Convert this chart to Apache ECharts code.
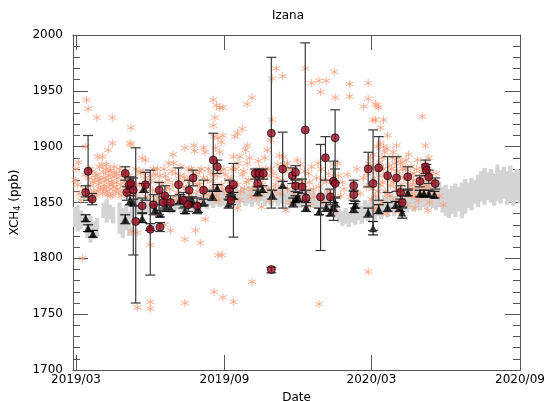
<!DOCTYPE html>
<html>
<head>
<meta charset="utf-8">
<script src="https://cdn.jsdelivr.net/npm/echarts@6/dist/echarts.min.js"></script>
<style>
  html, body { margin: 0; padding: 0; background: #fff; }
  #chart { width: 547px; height: 401px; }
</style>
</head>
<body>
<div id="chart"></div>
<script>
  // day numbers are counted from 2019-03-01
  const T0 = Date.UTC(2019, 2, 1);
  const DAY = 86400000;
  const toTime = d => T0 + d * DAY;

  const xTickDates = ['2019-03-01', '2019-09-01', '2020-03-01', '2020-09-01'];

  // model band (grey), 4-day blocks
  const modelDay = [-4, 0, 4, 8, 12, 16, 20, 24, 32, 36, 40, 44, 52, 56, 60, 64, 68, 72, 76, 80, 84, 88, 92, 96, 100, 104, 108, 112, 116, 120, 124, 128, 132, 136, 140, 144, 148, 152, 156, 160, 164, 168, 172, 176, 180, 184, 188, 192, 196, 200, 204, 208, 212, 216, 220, 224, 228, 232, 236, 240, 244, 248, 252, 256, 260, 264, 268, 272, 276, 280, 284, 288, 292, 296, 300, 304, 308, 312, 316, 320, 324, 328, 332, 336, 340, 344, 348, 352, 356, 360, 364, 368, 372, 376, 380, 384, 388, 392, 396, 400, 404, 408, 412, 416, 420, 424, 428, 432, 436, 440, 444, 448, 452, 456, 460, 464, 468, 472, 476, 480, 484, 488, 492, 496, 500, 504, 508, 512, 516, 520, 524, 528, 532, 536, 540, 544, 548];
  const modelLo = [1828, 1824, 1826, 1830, 1818, 1814, 1817, 1820, 1836, 1832, 1835, 1831, 1822, 1818, 1825, 1820, 1836, 1840, 1841, 1838, 1842, 1840, 1841, 1839, 1842, 1840, 1843, 1841, 1840, 1842, 1844, 1841, 1843, 1840, 1844, 1841, 1845, 1843, 1846, 1844, 1847, 1845, 1848, 1846, 1847, 1845, 1848, 1846, 1849, 1846, 1850, 1847, 1849, 1846, 1850, 1848, 1851, 1847, 1849, 1847, 1850, 1847, 1849, 1846, 1848, 1846, 1849, 1847, 1845, 1848, 1846, 1848, 1846, 1844, 1846, 1844, 1847, 1842, 1840, 1836, 1832, 1829, 1831, 1828, 1832, 1830, 1834, 1831, 1835, 1833, 1837, 1834, 1838, 1835, 1840, 1837, 1841, 1838, 1842, 1840, 1843, 1841, 1844, 1842, 1845, 1843, 1846, 1844, 1847, 1845, 1843, 1846, 1841, 1838, 1836, 1840, 1837, 1842, 1836, 1840, 1845, 1843, 1849, 1846, 1851, 1848, 1852, 1850, 1847, 1851, 1849, 1853, 1848, 1850, 1847, 1852, 1849];
  const modelHi = [1846, 1848, 1843, 1840, 1836, 1838, 1833, 1836, 1850, 1853, 1848, 1846, 1850, 1845, 1848, 1842, 1852, 1854, 1857, 1853, 1856, 1854, 1852, 1853, 1856, 1852, 1857, 1854, 1852, 1856, 1859, 1854, 1858, 1853, 1858, 1855, 1859, 1857, 1861, 1858, 1862, 1859, 1864, 1860, 1862, 1859, 1863, 1860, 1865, 1861, 1864, 1860, 1865, 1861, 1866, 1863, 1867, 1862, 1864, 1861, 1865, 1862, 1863, 1859, 1863, 1861, 1864, 1861, 1859, 1862, 1860, 1863, 1861, 1858, 1861, 1858, 1862, 1856, 1853, 1848, 1844, 1842, 1845, 1841, 1846, 1843, 1850, 1847, 1852, 1850, 1854, 1851, 1855, 1852, 1857, 1854, 1858, 1856, 1860, 1858, 1862, 1860, 1866, 1864, 1868, 1872, 1870, 1873, 1869, 1871, 1866, 1869, 1864, 1866, 1862, 1865, 1867, 1864, 1868, 1871, 1868, 1872, 1870, 1875, 1878, 1881, 1877, 1880, 1876, 1884, 1879, 1882, 1878, 1883, 1877, 1880, 1879];

  // satellite soundings (stars): [day, ppb]
  const starPoints = [
    [13, 1942], [15, 1934], [26, 1926], [45, 1926], [68, 1917], [68, 1902], [45, 1903], [40, 1897], [12, 1900],
    [27, 1891], [33, 1891], [38, 1884], [3, 1886], [0, 1880], [2, 1866], [-1, 1870], [8, 1800],
    [4, 1858], [6, 1852], [10, 1862], [11, 1875], [14, 1855],
    [16, 1872], [18, 1865], [20, 1878], [22, 1860], [23, 1870], [25, 1856], [26, 1875], [28, 1866], [29, 1882],
    [30, 1862], [31, 1871], [33, 1858], [34, 1877], [35, 1866], [36, 1862], [37, 1880], [38, 1870], [39, 1857],
    [40, 1874], [41, 1866], [42, 1862], [43, 1879], [44, 1869], [45, 1857], [46, 1873], [47, 1864], [48, 1876],
    [49, 1860], [50, 1868], [52, 1872], [53, 1858], [55, 1866], [57, 1874], [58, 1861], [60, 1869], [62, 1878], [64, 1858],
    [17, 1880], [19, 1858], [21, 1868], [24, 1874], [27, 1860], [29, 1870], [32, 1884], [34, 1863], [36, 1872],
    [38, 1860], [41, 1878], [43, 1856], [45, 1866], [47, 1882], [50, 1876], [51, 1862], [54, 1880], [56, 1856],
    [59, 1876], [61, 1866], [63, 1872],
    [82, 1890], [86, 1888], [120, 1893], [121, 1885], [135, 1899], [146, 1901], [147, 1896], [158, 1899], [160, 1895],
    [170, 1942], [174, 1937], [178, 1935], [172, 1926], [170, 1919], [171, 1909], [176, 1908], [180, 1904], [178, 1895],
    [173, 1899], [153, 1878], [171, 1875], [80, 1876], [92, 1874], [104, 1874], [96, 1880], [115, 1885], [130, 1882],
    [143, 1880], [67, 1903],
    [65, 1862], [70, 1870], [72, 1856], [75, 1866], [78, 1878], [82, 1860], [85, 1872], [88, 1855], [90, 1866],
    [95, 1861], [98, 1875], [100, 1852], [103, 1868], [106, 1858], [109, 1880], [112, 1863], [114, 1870], [117, 1853],
    [120, 1866], [123, 1876], [126, 1859], [128, 1869], [131, 1855], [134, 1873], [137, 1863], [140, 1880], [142, 1857],
    [145, 1868], [148, 1875], [150, 1860], [153, 1866], [156, 1852], [158, 1872], [161, 1862], [164, 1880], [166, 1856],
    [169, 1869], [172, 1860], [175, 1874], [177, 1852], [180, 1866], [183, 1880], [186, 1858], [188, 1870],
    [66, 1874], [74, 1880], [79, 1866], [84, 1878], [87, 1862], [93, 1870], [97, 1856], [101, 1880], [107, 1866],
    [111, 1874], [116, 1862], [119, 1878], [124, 1852], [129, 1874], [133, 1864], [138, 1870], [141, 1852], [146, 1876],
    [151, 1866], [155, 1880], [159, 1858], [163, 1870], [167, 1876], [170, 1864], [174, 1856], [179, 1878], [182, 1862],
    [185, 1875], [189, 1854],
    [76, 1756], [92, 1761], [92, 1755], [135, 1760], [171, 1770], [182, 1765], [195, 1761], [218, 1779], [181, 1803],
    [301, 1759], [362, 1788], [92, 1812], [69, 1824], [154, 1814], [176, 1803], [148, 1825], [135, 1817], [117, 1825],
    [76, 1823], [110, 1830], [160, 1835], [100, 1840],
    [248, 1970], [256, 1963], [243, 1961], [284, 1970], [292, 1957], [301, 1959], [310, 1959], [303, 1949], [320, 1967],
    [321, 1944], [339, 1956], [339, 1945], [362, 1957], [362, 1943], [356, 1936], [371, 1938], [368, 1924], [218, 1944],
    [212, 1938], [182, 1935], [206, 1916], [200, 1912], [197, 1909], [182, 1910], [243, 1924], [241, 1906], [237, 1897],
    [212, 1901], [210, 1897], [203, 1891], [195, 1891], [257, 1891], [262, 1885],
    [373, 1937], [375, 1935], [371, 1924], [381, 1924], [377, 1917], [386, 1910], [397, 1901], [381, 1900], [377, 1903],
    [429, 1927], [433, 1901], [437, 1890], [412, 1893], [404, 1886], [393, 1895],
    [192, 1872], [195, 1858], [198, 1880], [200, 1866], [203, 1852], [206, 1875], [209, 1862], [212, 1885], [214, 1870],
    [217, 1855], [220, 1878], [223, 1864], [226, 1887], [229, 1857], [232, 1872], [235, 1880], [238, 1862], [240, 1852],
    [244, 1876], [247, 1866], [250, 1884], [253, 1858], [256, 1870], [259, 1878], [262, 1862], [265, 1850], [268, 1874],
    [271, 1865], [274, 1888], [277, 1855], [280, 1870], [283, 1878], [286, 1860], [289, 1868], [292, 1882], [295, 1855],
    [298, 1872], [301, 1864], [304, 1880], [307, 1850], [310, 1868], [313, 1876], [316, 1858], [319, 1884], [322, 1866],
    [325, 1874], [328, 1856], [200, 1845], [230, 1846], [260, 1843], [290, 1847], [320, 1842],
    [193, 1880], [197, 1866], [201, 1885], [204, 1860], [208, 1878], [211, 1868], [215, 1890], [218, 1862], [221, 1872],
    [224, 1855], [227, 1880], [231, 1866], [234, 1890], [237, 1874], [241, 1880], [245, 1860], [249, 1872], [252, 1892],
    [255, 1864], [258, 1884],
    [266, 1880], [270, 1858], [278, 1884], [282, 1866], [288, 1876], [294, 1862], [300, 1885], [306, 1870], [312, 1860],
    [318, 1872], [324, 1885], [330, 1868],
    [332, 1862], [336, 1875], [340, 1855], [344, 1868], [348, 1880], [352, 1858], [356, 1872], [360, 1864], [363, 1885],
    [366, 1853], [368, 1893], [370, 1870], [372, 1878], [374, 1860], [376, 1886], [378, 1850], [380, 1868], [382, 1895],
    [384, 1875], [386, 1857], [388, 1883], [390, 1865], [392, 1890], [394, 1870], [396, 1852], [398, 1878], [400, 1862],
    [402, 1885], [404, 1858], [406, 1872], [408, 1880], [410, 1848], [412, 1866], [414, 1875], [416, 1856], [418, 1870],
    [420, 1862], [422, 1880], [424, 1852], [426, 1868], [428, 1876], [430, 1858], [432, 1884], [434, 1864], [436, 1872],
    [438, 1850], [440, 1868], [442, 1860], [446, 1876], [450, 1856],
    [361, 1876], [365, 1890], [367, 1862], [369, 1882], [371, 1856], [373, 1900], [375, 1874], [377, 1866], [379, 1890],
    [381, 1880], [383, 1860], [385, 1898], [387, 1872], [389, 1856], [391, 1880], [393, 1868], [395, 1885], [397, 1862],
    [399, 1890], [401, 1874], [403, 1866], [405, 1880], [407, 1856], [409, 1888], [411, 1872], [413, 1860], [415, 1882],
    [417, 1866], [419, 1876], [421, 1856], [423, 1888], [425, 1872], [427, 1862], [429, 1880], [431, 1870], [433, 1856],
    [435, 1880], [437, 1864], [439, 1876], [441, 1870],
    [370, 1845], [385, 1840], [400, 1842], [420, 1845], [436, 1843], [455, 1848]
  ];

  // ground-based means (red circles) with error bars
  const circleDay = [15, 12, 20, 61, 66, 63, 68, 74, 82, 86, 71, 92, 104, 103, 96, 110, 108, 117, 127, 133, 140, 145, 150, 158, 170, 175, 139, 190, 195, 192, 222, 227, 232, 225, 242, 256, 242, 268, 272, 272, 280, 285, 284, 303, 309, 321, 319, 321, 315, 344, 344, 362, 368, 375, 386, 397, 411, 402, 404, 426, 433, 434, 437, 445];
  const circleVal = [1878, 1859, 1853, 1876, 1866, 1859, 1867, 1833, 1847, 1866, 1861, 1826, 1828, 1861, 1848, 1856, 1850, 1850, 1866, 1852, 1861, 1872, 1847, 1861, 1888, 1882, 1848, 1862, 1866, 1852, 1876, 1876, 1876, 1867, 1912, 1880, 1790, 1874, 1877, 1865, 1864, 1854, 1915, 1855, 1890, 1908, 1869, 1867, 1855, 1865, 1857, 1880, 1867, 1881, 1874, 1872, 1873, 1859, 1850, 1869, 1882, 1879, 1873, 1867];
  const circleLo = [1852, 1855, 1848, 1870, 1859, 1852, 1862, 1760, 1841, 1852, 1803, 1785, 1824, 1839, 1839, 1845, 1843, 1843, 1848, 1845, 1852, 1865, 1840, 1848, 1861, 1876, 1842, 1852, 1819, 1848, 1871, 1871, 1871, 1861, 1845, 1845, 1787, 1867, 1871, 1860, 1858, 1847, 1852, 1807, 1870, 1868, 1834, 1855, 1848, 1860, 1852, 1864, 1825, 1852, 1859, 1860, 1861, 1853, 1845, 1864, 1876, 1874, 1867, 1862];
  const circleHi = [1910, 1865, 1858, 1882, 1872, 1864, 1873, 1899, 1854, 1877, 1872, 1879, 1832, 1868, 1857, 1865, 1855, 1856, 1881, 1859, 1870, 1879, 1854, 1870, 1912, 1888, 1855, 1870, 1885, 1857, 1880, 1880, 1880, 1873, 1980, 1913, 1792, 1881, 1883, 1870, 1871, 1861, 1993, 1902, 1909, 1933, 1887, 1880, 1862, 1870, 1861, 1895, 1915, 1909, 1891, 1891, 1882, 1865, 1856, 1874, 1888, 1884, 1879, 1872];

  // co-located model values (black triangles) with small error bars
  const triDay = [12, 15, 21, 61, 67, 71, 84, 82, 92, 98, 104, 112, 117, 129, 135, 141, 144, 151, 158, 169, 175, 189, 191, 195, 225, 231, 243, 256, 269, 272, 275, 285, 301, 310, 315, 321, 319, 344, 346, 362, 368, 375, 386, 396, 401, 404, 411, 426, 431, 437, 444];
  const triVal = [1836, 1827, 1822, 1835, 1852, 1850, 1863, 1836, 1828, 1844, 1840, 1846, 1845, 1853, 1843, 1850, 1852, 1845, 1850, 1856, 1863, 1849, 1859, 1856, 1860, 1862, 1857, 1866, 1850, 1853, 1855, 1846, 1842, 1846, 1841, 1850, 1846, 1845, 1848, 1841, 1827, 1844, 1846, 1848, 1846, 1841, 1859, 1858, 1858, 1858, 1857];
  const triErr = [3, 3, 3, 4, 4, 3, 4, 4, 3, 4, 3, 4, 3, 4, 3, 4, 3, 4, 3, 4, 3, 4, 4, 3, 4, 3, 4, 3, 4, 3, 4, 4, 3, 4, 3, 4, 4, 4, 3, 4, 6, 4, 4, 3, 4, 5, 3, 3, 3, 3, 3];

  const starPath = 'path://M10,0L10,20M1.34,5L18.66,15M1.34,15L18.66,5';

  function errBar(color) {
    return function (params, api) {
      const x = api.value(0);
      const p1 = api.coord([x, api.value(3)]);
      const p2 = api.coord([x, api.value(2)]);
      const w = 5;
      const style = { stroke: color, lineWidth: 1.2, fill: null };
      return {
        type: 'group',
        children: [
          { type: 'line', shape: { x1: p1[0], y1: p1[1], x2: p2[0], y2: p2[1] }, style: style },
          { type: 'line', shape: { x1: p1[0] - w, y1: p1[1], x2: p1[0] + w, y2: p1[1] }, style: style },
          { type: 'line', shape: { x1: p2[0] - w, y1: p2[1], x2: p2[0] + w, y2: p2[1] }, style: style }
        ]
      };
    };
  }

  function bandItem(params, api) {
    const a = api.coord([api.value(0), api.value(2)]);
    const b = api.coord([api.value(0) + 4 * DAY, api.value(1)]);
    return {
      type: 'rect',
      shape: { x: a[0] - 0.5, y: a[1], width: b[0] - a[0] + 1, height: b[1] - a[1] },
      style: { fill: '#d4d4d4' }
    };
  }

  const fmtDate = v => {
    const d = new Date(v);
    return d.getUTCFullYear() + '/' + String(d.getUTCMonth() + 1).padStart(2, '0');
  };
  const xTicks = xTickDates.map(s => Date.parse(s + 'T00:00:00Z'));
  const font = 'DejaVu Sans';

  const chart = echarts.init(document.getElementById('chart'), null, { renderer: 'canvas' });

  const axisLineStyle = { show: true, onZero: false, lineStyle: { color: '#555', width: 1 } };

  const opt = {
    animation: false,
    backgroundColor: '#fff',
    title: {
      text: 'Izana',
      left: 283,
      top: 5,
      textAlign: 'center',
      textStyle: { fontFamily: font, fontSize: 12, fontWeight: 'normal', color: '#000' }
    },
    grid: { left: 73, right: 27, top: 35, bottom: 31, containLabel: false, outerBoundsMode: 'none' },
    xAxis: [{
      type: 'value',
      min: toTime(-3.7),
      max: xTicks[3],
      name: 'Date',
      nameLocation: 'middle',
      nameGap: 22,
      nameTextStyle: { fontFamily: font, fontSize: 12, color: '#000' },
      axisLine: axisLineStyle,
      axisTick: { show: true, inside: true, length: 15, customValues: xTicks, lineStyle: { color: '#555' } },
      axisLabel: {
        show: true, margin: 4, customValues: xTicks, formatter: fmtDate,
        fontFamily: font, fontSize: 12, color: '#000'
      },
      splitLine: { show: false }
    }, {
      type: 'value',
      position: 'top',
      min: toTime(-3.7),
      max: xTicks[3],
      axisLine: axisLineStyle,
      axisTick: { show: true, inside: true, length: 15, customValues: xTicks, lineStyle: { color: '#555' } },
      axisLabel: { show: false },
      splitLine: { show: false }
    }],
    yAxis: [{
      type: 'value',
      min: 1700,
      max: 2000,
      interval: 50,
      name: '{a|XCH}{s|4}{a| (ppb)}',
      nameLocation: 'middle',
      nameRotate: 90,
      nameGap: 38,
      nameTextStyle: {
        rich: {
          a: { fontFamily: font, fontSize: 12, color: '#000' },
          s: { fontFamily: font, fontSize: 8, color: '#000', verticalAlign: 'bottom', padding: [6, 0, 0, 0] }
        }
      },
      axisLine: axisLineStyle,
      axisTick: { show: true, inside: true, length: 15, lineStyle: { color: '#555' } },
      minorTick: { show: true, splitNumber: 5, length: 7, lineStyle: { color: '#555' } },
      axisLabel: { margin: 10, fontFamily: font, fontSize: 12, color: '#000', formatter: v => String(v) },
      splitLine: { show: false },
      minorSplitLine: { show: false }
    }, {
      type: 'value',
      position: 'right',
      min: 1700,
      max: 2000,
      interval: 50,
      axisLine: axisLineStyle,
      axisTick: { show: true, inside: true, length: 15, lineStyle: { color: '#555' } },
      minorTick: { show: true, splitNumber: 5, length: 7, lineStyle: { color: '#555' } },
      axisLabel: { show: false },
      splitLine: { show: false }
    }],
    series: [
      {
        type: 'custom',
        renderItem: bandItem,
        clip: true,
        data: modelDay.map((d, i) => [toTime(d), modelLo[i], modelHi[i]]),
        encode: { x: 0, y: [1, 2] },
        z: 1
      },
      {
        type: 'scatter',
        symbol: starPath,
        symbolSize: 8,
        data: starPoints.map(p => [toTime(p[0]), p[1]]),
        itemStyle: { color: 'rgba(0,0,0,0)', borderColor: '#f9a07c', borderWidth: 1, opacity: 0.85 },
        z: 2
      },
      {
        type: 'custom',
        renderItem: errBar('#1a1a1a'),
        data: triDay.map((d, i) => [toTime(d), triVal[i], triVal[i] - triErr[i], triVal[i] + triErr[i]]),
        encode: { x: 0, y: [1, 2, 3] },
        z: 3
      },
      {
        type: 'scatter',
        symbol: 'triangle',
        symbolSize: 8,
        data: triDay.map((d, i) => [toTime(d), triVal[i]]),
        itemStyle: { color: '#000' },
        z: 4
      },
      {
        type: 'custom',
        renderItem: errBar('#3a3a3a'),
        data: circleDay.map((d, i) => [toTime(d), circleVal[i], circleLo[i], circleHi[i]]),
        encode: { x: 0, y: [1, 2, 3] },
        z: 5
      },
      {
        type: 'scatter',
        symbol: 'circle',
        symbolSize: 8,
        data: circleDay.map((d, i) => [toTime(d), circleVal[i]]),
        itemStyle: { color: '#960c22', borderColor: '#000', borderWidth: 0.8 },
        z: 6
      }
    ]
  };

  chart.setOption(opt);
</script>
</body>
</html>
